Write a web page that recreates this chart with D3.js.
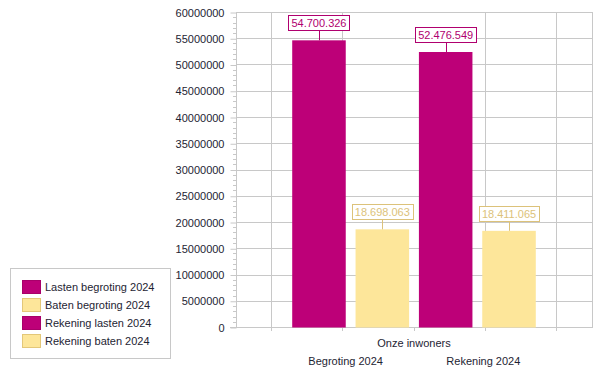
<!DOCTYPE html>
<html>
<head>
<meta charset="utf-8" />
<title>Onze inwoners</title>
<style>
  body { margin: 0; background: #fff; }
  text { font-family: "Liberation Sans", Arial, sans-serif; }
</style>
</head>
<body>
<svg id="chart" width="602" height="374"></svg>
<script src="https://d3js.org/d3.v7.min.js"></script>
<script>
var categories = ["Onze inwoners"];
var seriesNames = ["Lasten begroting 2024", "Baten begroting 2024", "Rekening lasten 2024", "Rekening baten 2024"];
var seriesValues = [54700326, 18698063, 52476549, 18411065];
var seriesColors = ["#bd0078", "#fde69a", "#bd0078", "#fde69a"];
var labelColors = ["#b0006f", "#dcc27a", "#b0006f", "#dcc27a"];
var groupLabels = ["Begroting 2024", "Rekening 2024"];
var yTickValues = d3.range(0, 60000001, 5000000);

var svg = d3.select("#chart");
var plotLeft = 236, plotRight = 592, plotTop = 12, plotBottom = 327;
var gridColor = "#c8c8c8";
var textColor = "#1e2433";

var y = d3.scaleLinear().domain([0, 60000000]).range([plotBottom + 0.5, plotTop + 0.5]);
// five slots across the plot, the category sits in the middle one
var slot = d3.scaleLinear().domain([0, 5]).range([plotLeft, plotRight]);
var catX = slot(2.5);
var x = d3.scaleBand().domain(seriesNames)
  .range([catX - 126.7, catX + 126.7])
  .paddingInner(0.155).paddingOuter(0.0775);

var nl = d3.formatLocale({decimal: ",", thousands: ".", grouping: [3], currency: ["", ""]});
var fmt = nl.format(",d");

function px(v){ return Math.round(v - 0.5) + 0.5; }

// horizontal grid
svg.append("g").selectAll("line").data(yTickValues).enter().append("line")
  .attr("x1", plotLeft).attr("x2", plotRight)
  .attr("y1", function(d){ return px(y(d)); })
  .attr("y2", function(d){ return px(y(d)); })
  .attr("stroke", gridColor);

// vertical grid (none on the category line itself)
var xTickPos = [0.5, 1.5, 2.5, 3.5, 4.5];
svg.append("g").selectAll("line").data(xTickPos.filter(function(d){ return d != 2.5; })).enter().append("line")
  .attr("x1", function(d){ return px(slot(d)); })
  .attr("x2", function(d){ return px(slot(d)); })
  .attr("y1", plotTop).attr("y2", plotBottom)
  .attr("stroke", gridColor);

// frame
svg.append("line").attr("x1", plotLeft + 0.5).attr("x2", plotLeft + 0.5).attr("y1", plotTop).attr("y2", plotBottom + 1).attr("stroke", gridColor);
svg.append("line").attr("x1", plotRight + 0.5).attr("x2", plotRight + 0.5).attr("y1", plotTop).attr("y2", plotBottom + 1).attr("stroke", gridColor);
svg.append("line").attr("x1", plotLeft).attr("x2", plotRight + 1).attr("y1", plotTop + 0.5).attr("y2", plotTop + 0.5).attr("stroke", gridColor);

// y axis
var yAxis = d3.axisLeft(y).tickValues(yTickValues).tickSize(6).tickPadding(6).tickFormat(d3.format("d"));
var ya = svg.append("g").attr("transform", "translate(" + (plotLeft + 0.5) + ",0)").call(yAxis);
ya.select(".domain").remove();
ya.selectAll("line").attr("stroke", gridColor);
ya.selectAll("text").attr("fill", textColor).style("font-size", "11px").style("font-family", "Liberation Sans, Arial, sans-serif");
// minor ticks
var minor = d3.range(0, 60000001, 1000000).filter(function(d){ return d % 5000000 != 0; });
svg.append("g").selectAll("line").data(minor).enter().append("line")
  .attr("x1", plotLeft - 3).attr("x2", plotLeft)
  .attr("y1", function(d){ return px(y(d)); })
  .attr("y2", function(d){ return px(y(d)); })
  .attr("stroke", gridColor);

// bottom axis ticks
svg.append("g").selectAll("line").data(xTickPos).enter().append("line")
  .attr("x1", function(d){ return px(slot(d)); })
  .attr("x2", function(d){ return px(slot(d)); })
  .attr("y1", plotBottom).attr("y2", plotBottom + 4)
  .attr("stroke", gridColor);
svg.append("line").attr("x1", plotLeft - 6).attr("x2", plotRight + 1).attr("y1", plotBottom + 0.5).attr("y2", plotBottom + 0.5).attr("stroke", gridColor);

// bars
svg.append("g").selectAll("rect").data(seriesValues).enter().append("rect")
  .attr("x", function(d, i){ return x(seriesNames[i]); })
  .attr("width", x.bandwidth())
  .attr("y", function(d){ return y(d); })
  .attr("height", function(d){ return y(0) - y(d); })
  .attr("fill", function(d, i){ return seriesColors[i]; });

// value labels
var lab = svg.append("g").selectAll("g").data(seriesValues).enter().append("g");
lab.each(function(d, i){
  var g = d3.select(this);
  var cx = x(seriesNames[i]) + x.bandwidth() / 2;
  var yb = y(d) - 9;
  var t = g.append("text").text(fmt(d))
    .attr("x", cx).attr("y", yb - 4).attr("text-anchor", "middle")
    .attr("fill", labelColors[i]).style("font-size", "11px");
  var w = t.node().getComputedTextLength() + 6;
  g.insert("rect", "text")
    .attr("x", Math.round(cx - w / 2) + 0.5).attr("y", Math.round(yb - 16) + 0.5)
    .attr("width", Math.round(w)).attr("height", 15)
    .attr("fill", "#fff").attr("stroke", labelColors[i]);
  g.append("line")
    .attr("x1", Math.round(cx) + 0.5).attr("x2", Math.round(cx) + 0.5)
    .attr("y1", Math.round(yb - 1)).attr("y2", y(d))
    .attr("stroke", labelColors[i]);
});

// category and group labels
svg.append("text").text(categories[0]).attr("x", catX).attr("y", 347)
  .attr("text-anchor", "middle").attr("fill", textColor).style("font-size", "11px");
svg.append("g").selectAll("text").data(groupLabels).enter().append("text")
  .text(function(d){ return d; })
  .attr("x", function(d, i){
    var a = x(seriesNames[i * 2]), b = x(seriesNames[i * 2 + 1]) + x.bandwidth();
    return (a + b) / 2 + (i == 0 ? -5 : 6);
  })
  .attr("y", 365).attr("text-anchor", "middle").attr("fill", textColor).style("font-size", "11px");

// legend
var lg = svg.append("g");
lg.append("rect").attr("x", 10.5).attr("y", 268.5).attr("width", 160).attr("height", 90)
  .attr("fill", "#fff").attr("stroke", gridColor);
var items = lg.selectAll("g").data(seriesNames).enter().append("g")
  .attr("transform", function(d, i){ return "translate(22," + (280 + i * 18) + ")"; });
items.append("rect").attr("x", 0.5).attr("y", 0.5).attr("width", 18).attr("height", 13)
  .attr("fill", function(d, i){ return seriesColors[i]; })
  .attr("stroke", function(d, i){ return i % 2 ? "#e3c779" : "#a8006a"; });
items.append("text").text(function(d){ return d; }).attr("x", 23).attr("y", 11)
  .attr("fill", textColor).style("font-size", "11px");
</script>
</body>
</html>
